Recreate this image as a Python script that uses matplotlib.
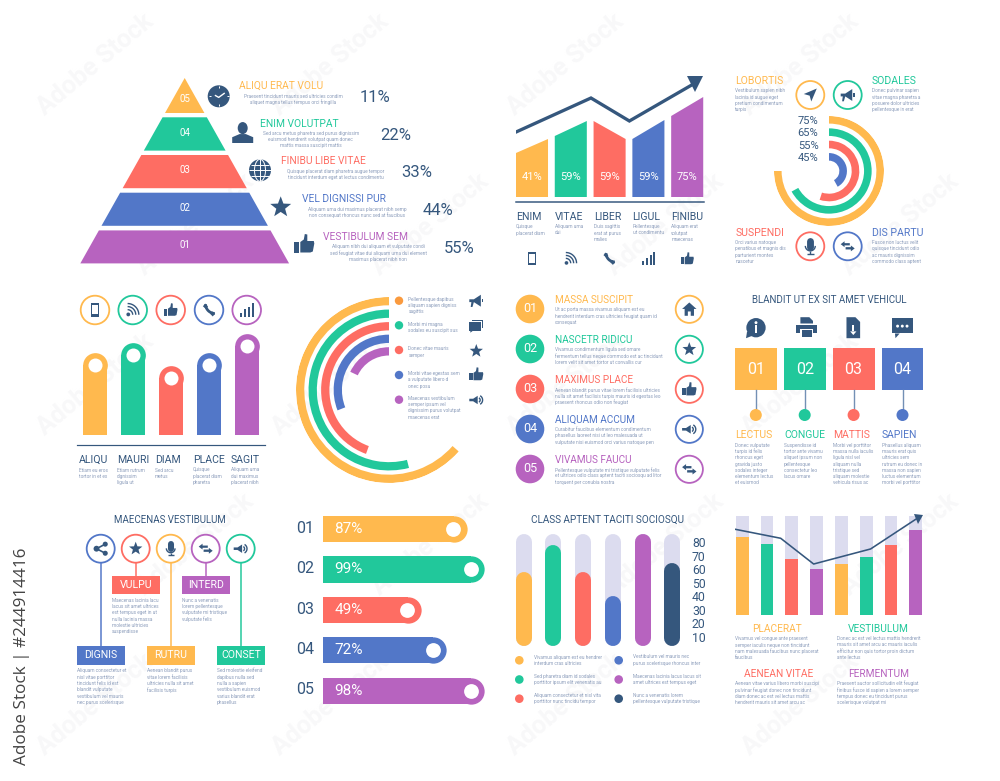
"""Infographic element set: pyramid, bar charts, radial bars, lists and pills."""

import numpy as np
import matplotlib
matplotlib.use("Agg")
import matplotlib.pyplot as plt
from matplotlib.patches import Circle, Ellipse, Polygon, Rectangle

W, H = 1000, 781
PX = 0.72  # points per pixel at dpi=100

YELLOW = "#FFB94E"
GREEN = "#21C89B"
RED = "#FE6D63"
BLUE = "#5277C8"
PURPLE = "#B763BF"
NAVY = "#35577D"
TRACK = "#DCDCEF"
BODY = "#8D9EBC"
FIVE = [YELLOW, GREEN, RED, BLUE, PURPLE]

plt.rcParams["font.family"] = ["Roboto", "DejaVu Sans"]

# pyramid
pyr_nums = ["05", "04", "03", "02", "01"]
pyr_titles = ["ALIQU ERAT VOLU", "ENIM VOLUTPAT", "FINIBU LIBE VITAE", "VEL DIGNISSI PUR", "VESTIBULUM SEM"]
pyr_pcts = ["11%", "22%", "33%", "44%", "55%"]
pyr_body = [
    ["Praesent tincidunt mauris sed ultricies condim", "aliquet magna tellus tempus orci fringilla"],
    ["Sed arcu metus pharetra sed purus dignissim", "euismod hendrerit volutpat quam donec", "mattis massa suscipit mattis"],
    ["Quisque placerat diam pharetra augue tempor", "tincidunt interdum eget at lectus condimentu"],
    ["Aliquam urna dui maximus placerat nibh semp", "non consequat rhoncus nunc sed at faucibus"],
    ["Aliquam nibh dui aliquam et vulputate condi", "sed feugiat vitae dui aliquam urna dui element", "maximus placerat nibh non"],
]

# slanted bars with trend arrow
slant_left = [44, 61, 76, 58, 81]
slant_right = [58, 76, 58, 77, 100]
slant_labels = ["41%", "59%", "59%", "59%", "75%"]
slant_titles = ["ENIM", "VITAE", "LIBER", "LIGUL", "FINIBU"]
slant_body = [
    ["Quisque", "placerat diam"],
    ["Aliquam urna", "dui"],
    ["Duis sagittis", "erat at purus", "malies"],
    ["Pellentesque", "ut condimentu"],
    ["Aliquam erat", "volutpat", "maecenas"],
]
trend_x = [-0.41, 1.52, 2.51, 4.25]
trend_y = [65, 99, 76, 115]

# top right radial
ring_pcts = [75, 67, 55, 42]
ring_labels = ["75%", "65%", "55%", "45%"]
corner_titles = ["LOBORTIS", "SODALES", "SUSPENDI", "DIS PARTU"]
corner_body = [
    ["Vestibulum sapien nibh", "lacinia id augue eget", "pretium condimentum", "turpis"],
    ["Donec pulvinar sapien", "vitae magna pharetra a", "posuere dolor ultricies", "pellentesque in erat"],
    ["Orci varius natoque", "penatibus et magnis dis", "parturient montes", "nascetur"],
    ["Fusce non luctus velit", "quisque tincidunt odio", "ac mauris dignissim", "commodo class aptent"],
]

# rounded columns
col_heights = [82, 92, 69, 82, 101]
col_titles = ["ALIQU", "MAURI", "DIAM", "PLACE", "SAGIT"]
col_body = [
    ["Etiam eu eros", "tortor in et ex"],
    ["Etiam rutrum", "dignissim", "ligula ut"],
    ["Sed arcu", "metus"],
    ["Quisque", "placerat diam", "pharetra"],
    ["Aliquam urna", "dui maximus", "placerat nibh"],
]

# large radial
big_pcts = [63.5, 54, 44.5, 31, 18]
big_body = [
    ["Pellentesque dapibus", "aliquam sapien digniss", "sagittis"],
    ["Morbi mi magna", "sodales eu suscipit sus"],
    ["Donec vitae mauris", "semper"],
    ["Morbi vitae egestas sem", "a vulputate libero d", "onec posu"],
    ["Maecenas vestibulum", "semper ipsum vel", "dignissim purus volutpat", "maecenas erat"],
]

# numbered list
list_nums = ["01", "02", "03", "04", "05"]
list_titles = ["MASSA SUSCIPIT", "NASCETR RIDICU", "MAXIMUS PLACE", "ALIQUAM ACCUM", "VIVAMUS FAUCU"]
list_body = [
    ["Ut ac porta massa vivamus aliquam est eu", "hendrerit interdum cras ultricies feugiat quam id", "consequat"],
    ["Vivamus condimentum ligula sed ornare", "fermentum tellus neque commodo est ac tincidunt", "lorem velit sit amet tortor ut convallis cur"],
    ["Aenean blandit purus vitae lorem facilisis ultricies", "nulla sit amet facilisis turpis mauris id egestas leo", "praesent rhoncus odio non feugiat"],
    ["Curabitur faucibus elementum condimentum", "phasellus laoreet nisi ut leo malesuada ut", "vulputate nisi euismod orci varius natoque pen"],
    ["Pellentesque vulputate mi tristique vulputate felis", "et ultrices odio class aptent taciti sociosqu ad litor", "torquent per conubia nostra"],
]

# square steps
step_nums = ["01", "02", "03", "04"]
step_titles = ["LECTUS", "CONGUE", "MATTIS", "SAPIEN"]
step_body = [
    ["Donec vulputate", "turpis id felis", "rhoncus eget", "gravida justo", "sodales integer", "elementum lectus", "et euismod"],
    ["Suspendisse id", "tortor ante vivamu", "aliquet ipsum non", "pellentesque", "consectetur leo", "lacus ornare"],
    ["Morbi vel porttitor", "massa nulla iaculis", "ligula nisl vel", "aliquam nulla", "tristique sed", "aliquam molestie", "vehicula risus ac"],
    ["Phasellus aliquam", "mauris erat quis", "ultricies sem", "rutrum eu donec in", "massa non sapien", "luctus elementum", "morbi vel porttitor"],
]

# branch diagram
branch_labels = ["DIGNIS", "VULPU", "RUTRU", "INTERD", "CONSET"]
branch_body = [
    ["Aliquam consectetur et", "nisl vitae porttitor", "tincidunt felis id est", "blandit vulputate", "vestibulum vel mauris", "nec purus scelerisque"],
    ["Maecenas lacinia lacu", "lacus sit amet ultrices", "est tempus eget in ut", "nulla lacinia massa", "molestie ultricies", "suspendisse"],
    ["Aenean blandit purus", "vitae lorem facilisis", "ultricies nulla sit amet", "facilisis turpis"],
    ["Nunc a venenatis", "lorem pellentesque", "vulputate mi tristique", "vulputate felis"],
    ["Sed molestie eleifend", "dapibus nulla sed", "nulla a sapien", "vestibulum euismod", "varius blandit erat", "phasellus"],
]

# horizontal bars
hbar_nums = ["01", "02", "03", "04", "05"]
hbar_labels = ["87%", "99%", "49%", "72%", "98%"]
hbar_lengths = [87.5, 98, 59.4, 74.9, 98]

# pill chart
pill_values = [57.7, 77.8, 57.7, 40.2, 85.9, 64.3]
pill_colors = [YELLOW, GREEN, RED, BLUE, PURPLE, NAVY]
pill_ticks = [10, 20, 30, 40, 50, 60, 70, 80]
pill_body = [
    ["Vivamus aliquam est eu hendrer", "interdum cras ultricies"],
    ["Sed pharetra diam id sodales", "porttitor ipsum elit venenatis au"],
    ["Aliquam consectetur et nisl vita", "porttitor nunc tincidu tempor"],
    ["Vestibulum vel mauris nec", "purus scelerisque rhoncus inter"],
    ["Maecenas lacinia lacus lacus sit", "amet ultrices est tempus eget"],
    ["Nunc a venenatis lorem", "pellentesque vulputate tristique"],
]

# stacked bars with line
stack_values = [79, 72, 57, 46, 52, 59, 71, 86]
stack_colors = [YELLOW, GREEN, RED, PURPLE, YELLOW, GREEN, RED, PURPLE]
stack_line_x = [-0.29, 1.55, 2.88, 5.18, 7.1]
stack_line_y = [86.6, 77.5, 51.5, 66.7, 98.3]
stack_titles = ["PLACERAT", "VESTIBULUM", "AENEAN VITAE", "FERMENTUM"]
stack_body = [
    ["Vivamus vel congue ante praesent", "semper iaculis neque non tincidunt", "nam malesuada faucibus nunc placerat", "faucibus"],
    ["Donec ac est vel lectus mattis hendrerit", "mauris sit amet arcu ac mauris iaculis", "efficitur non quis tortor proin dictum", "ante lectus"],
    ["Aenean vitae varius libero morbi suscipi", "pulvinar feugiat donec non tincidunt", "diam donec ac est vel lectus mattis", "hendrerit mauris sit amet arcu ac"],
    ["Praesent auctor sollicitudin elit feugiat", "finibus fusce id sapien a lorem semper", "tempus donec eu tincidunt purus", "scelerisque volutpat mi"],
]

fig = plt.figure(figsize=(W / 100, H / 100), dpi=100, facecolor="white")


def panel(x0, y0, x1, y1, **kw):
    a = fig.add_axes([x0 / W, 1 - y1 / H, (x1 - x0) / W, (y1 - y0) / H], zorder=2, **kw)
    a.patch.set_visible(False)
    return a


# watermark layer, then overlay in pixel coordinates for text and icons
base = fig.add_axes([0, 0, 1, 1], zorder=0)
base.set_xlim(0, W)
base.set_ylim(H, 0)
base.axis("off")
for row in range(5):
    for col in range(4):
        base.text(95 + col * 235 + (row % 2) * 100, 65 + row * 160, "Adobe Stock", rotation=40,
                  color="#F8F8F9", fontsize=18, fontweight="bold", ha="center", va="center")

ax = fig.add_axes([0, 0, 1, 1], zorder=5)
ax.set_xlim(0, W)
ax.set_ylim(H, 0)
ax.axis("off")


def txt(x, y, s, color=NAVY, size=7.4, ha="left", **kw):
    ax.text(x, y, s, color=color, fontsize=size, ha=ha, va="center", zorder=9, **kw)


def body(x, y, lines, ha="left", dy=6.3, size=3.4):
    for i, line in enumerate(lines):
        ax.text(x, y + i * dy, line, color=BODY, fontsize=size, ha=ha, va="center", zorder=9)


def poly(cx, cy, s, pts, color=NAVY, z=6):
    xy = [(cx + s * px, cy - s * py) for px, py in pts]
    ax.add_patch(Polygon(xy, closed=True, fc=color, ec="none", zorder=z))


def rect(cx, cy, s, x0, y0, x1, y1, color=NAVY, z=6):
    poly(cx, cy, s, [(x0, y0), (x1, y0), (x1, y1), (x0, y1)], color, z)


def disc(cx, cy, r, color, z=6):
    ax.add_patch(Circle((cx, cy), r, fc=color, ec="none", zorder=z))


def curve(cx, cy, s, px, py, r, a0, a1, lw, color=NAVY, z=6):
    t = np.radians(np.linspace(a0, a1, 30))
    ax.plot(cx + s * (px + r * np.cos(t)), cy - s * (py + r * np.sin(t)), color=color,
            lw=lw, solid_capstyle="butt", zorder=z)


def seg(cx, cy, s, pts, lw, color=NAVY, z=6, cap="butt"):
    ax.plot([cx + s * p[0] for p in pts], [cy - s * p[1] for p in pts], color=color, lw=lw,
            solid_capstyle=cap, zorder=z)


def star(cx, cy, s, color=NAVY):
    t = np.radians(90 + 36 * np.arange(10))
    r = np.where(np.arange(10) % 2 == 0, 1.0, 0.42)
    poly(cx, cy, s, list(zip(r * np.cos(t), r * np.sin(t))), color)


def thumb(cx, cy, s):
    rect(cx, cy, s, -1.0, -0.85, -0.5, 0.2)
    poly(cx, cy, s, [(-0.4, 0.2), (-0.05, 0.45), (0.05, 1.0), (0.3, 0.95), (0.3, 0.3), (0.95, 0.3),
                     (1.0, 0.05), (0.85, -0.75), (0.6, -0.85), (-0.4, -0.85)])


def clock(cx, cy, s):
    disc(cx, cy, s, NAVY)
    seg(cx, cy, s, [(-0.35, 0.1), (0, -0.1), (0.55, 0.3)], 1.0, "white", 7)
    for a in (0, 90, 180, 270):
        c, d = np.cos(np.radians(a)), np.sin(np.radians(a))
        seg(cx, cy, s, [(0.72 * c, 0.72 * d), (0.9 * c, 0.9 * d)], 0.7, "white", 7)


def person(cx, cy, s):
    ax.add_patch(Ellipse((cx, cy - 0.42 * s), 0.95 * s, 1.15 * s, fc=NAVY, ec="none", zorder=6))
    poly(cx, cy, s, [(-1, -1), (-1, -0.45), (-0.3, -0.15), (0.3, -0.15), (1, -0.45), (1, -1)])


def globe(cx, cy, s):
    disc(cx, cy, s, NAVY)
    lw = 0.7
    seg(cx, cy, s, [(-1, 0), (1, 0)], lw, "white", 7)
    seg(cx, cy, s, [(0, -1), (0, 1)], lw, "white", 7)
    seg(cx, cy, s, [(-0.85, 0.5), (0.85, 0.5)], lw, "white", 7)
    seg(cx, cy, s, [(-0.85, -0.5), (0.85, -0.5)], lw, "white", 7)
    t = np.radians(np.linspace(0, 360, 60))
    ax.plot(cx + 0.5 * s * np.cos(t), cy + s * np.sin(t), color="white", lw=lw, zorder=7)


def mobile(cx, cy, s):
    rect(cx, cy, s, -0.62, -1, 0.62, 1)
    rect(cx, cy, s, -0.4, -0.65, 0.4, 0.75, "white", 7)


def rss(cx, cy, s):
    disc(cx - 0.65 * s, cy + 0.65 * s, 0.28 * s, NAVY)
    for r in (0.75, 1.2, 1.65):
        curve(cx, cy, s, -0.75, -0.7, r, 0, 90, 1.0)


def call(cx, cy, s):
    curve(cx, cy, s, 0.85, 0.85, 1.35, 180, 270, 2.0)
    poly(cx, cy, s, [(-0.9, 0.55), (-0.55, 0.95), (-0.15, 0.5), (-0.45, 0.15)])
    poly(cx, cy, s, [(0.9, -0.55), (0.55, -0.95), (0.15, -0.55), (0.45, -0.2)])


def bars(cx, cy, s):
    for i, h in enumerate((0.6, 1.1, 1.5, 2.0)):
        x = -0.95 + i * 0.58
        rect(cx, cy, s, x, -1, x + 0.3, -1 + h)


def mic(cx, cy, s):
    seg(cx, cy, s, [(0, 0.65), (0, -0.05)], 0.62 * s, cap="round")
    curve(cx, cy, s, 0, 0.05, 0.62, 180, 360, 1.0)
    seg(cx, cy, s, [(0, -0.55), (0, -0.95)], 1.0)
    seg(cx, cy, s, [(-0.4, -0.95), (0.4, -0.95)], 1.0)


def arrows(cx, cy, s):
    poly(cx, cy, s, [(-1, 0.3), (-0.45, 0.72), (-0.45, 0.45), (0.3, 0.45), (0.3, 0.13), (-0.45, 0.13), (-0.45, -0.12)])
    poly(cx, cy, s, [(1, -0.3), (0.45, 0.12), (0.45, -0.12), (-0.3, -0.12), (-0.3, -0.45), (0.45, -0.45), (0.45, -0.72)])


def share(cx, cy, s):
    seg(cx, cy, s, [(0.65, 0.65), (-0.6, 0), (0.65, -0.65)], 1.2)
    disc(cx + 0.65 * s, cy - 0.65 * s, 0.36 * s, NAVY)
    disc(cx - 0.6 * s, cy, 0.42 * s, NAVY)
    disc(cx + 0.65 * s, cy + 0.65 * s, 0.36 * s, NAVY)


def megaphone(cx, cy, s):
    poly(cx, cy, s, [(-1, 0.2), (-0.35, 0.2), (0.65, 0.85), (0.65, -0.85), (-0.35, -0.2), (-0.55, -0.9),
                     (-0.8, -0.9), (-0.7, -0.2), (-1, -0.2)])
    rect(cx, cy, s, 0.75, -0.25, 1.0, 0.25)


def speaker(cx, cy, s):
    poly(cx, cy, s, [(-1, 0.18), (-0.45, 0.18), (0.2, 0.6), (0.2, -0.6), (-0.45, -0.18), (-1, -0.18)])
    curve(cx, cy, s, 0.2, 0, 0.35, -60, 60, 1.0)
    curve(cx, cy, s, 0.2, 0, 0.7, -60, 60, 1.0)


def chat2(cx, cy, s):
    rect(cx, cy, s, -0.55, -0.35, 1.0, 0.85)
    rect(cx, cy, s, -0.75, -0.55, 0.78, 0.65, "white", 7)
    rect(cx, cy, s, -1.0, -0.7, 0.62, 0.5, NAVY, 8)
    poly(cx, cy, s, [(-0.85, -0.7), (-0.85, -1), (-0.45, -0.7)], NAVY, 8)


def bubble(cx, cy, s):
    rect(cx, cy, s, -1, -0.55, 1, 0.9)
    poly(cx, cy, s, [(-0.7, -0.55), (-0.65, -1), (-0.25, -0.55)])
    for x in (-0.45, 0, 0.45):
        disc(cx + x * s, cy - 0.15 * s, 0.14 * s, "white", 7)


def printer(cx, cy, s):
    rect(cx, cy, s, -1, -0.5, 1, 0.3)
    poly(cx, cy, s, [(-0.6, 0.4), (-0.6, 1), (0.25, 1), (0.6, 0.65), (0.6, 0.4)])
    rect(cx, cy, s, -0.62, -1, 0.62, -0.1, "white", 7)
    rect(cx, cy, s, -0.48, -0.88, 0.48, -0.22, NAVY, 8)


def filedown(cx, cy, s):
    poly(cx, cy, s, [(-0.65, -1), (-0.65, 1), (0.2, 1), (0.65, 0.55), (0.65, -1)])
    rect(cx, cy, s, -0.1, -0.35, 0.1, 0.3, "white", 7)
    poly(cx, cy, s, [(-0.3, -0.35), (0.3, -0.35), (0, -0.7)], "white", 7)


def home(cx, cy, s):
    poly(cx, cy, s, [(-1, 0.05), (0, 0.95), (1, 0.05), (0.65, 0.05), (0.65, -0.9), (0.2, -0.9), (0.2, -0.3),
                     (-0.2, -0.3), (-0.2, -0.9), (-0.65, -0.9), (-0.65, 0.05)])


def info(cx, cy, s):
    disc(cx, cy, s * 0.92, NAVY)
    poly(cx, cy, s, [(-0.85, -0.35), (-0.95, -1.0), (-0.3, -0.75)])
    disc(cx, cy - 0.48 * s, 0.14 * s, "white", 7)
    rect(cx, cy, s, -0.12, -0.55, 0.12, 0.22, "white", 7)


def plane(cx, cy, s):
    poly(cx, cy, s, [(1, 1), (-1, 0.15), (-0.1, -0.1), (0.15, -1)])


def ring(x, y, color, icon, isize=7.0, r=14):
    ax.add_patch(Circle((x, y), r, fc="white", ec=color, lw=1.8 * PX, zorder=5))
    icon(x, y, isize)


# pyramid
apex_x, apex_y, slope = 184.7, 78.0, 0.563
for i in range(5):
    top = 117.3 + (i - 1) * 37.7 if i else apex_y
    bot = 113.0 + i * 37.6
    ax.add_patch(Polygon([(apex_x - (top - apex_y) * slope, top), (apex_x + (top - apex_y) * slope, top),
                          (apex_x + (bot - apex_y) * slope, bot), (apex_x - (bot - apex_y) * slope, bot)],
                         fc=FIVE[i], ec="none"))
    txt(apex_x, 99.5 if i == 0 else 95 + i * 37.6, pyr_nums[i], "white", 7.0, "center")
    left = 238.7 + i * 21.1
    txt(left, 86 + i * 37.7, pyr_titles[i], FIVE[i], 7.4)
    body(left + [54.5, 51, 54.5, 55.5, 55][i], 96 + i * 37.7 + ([0, -0.4, 0, 0, 0][i]), pyr_body[i], "center")
    txt(375 + i * 21.1, 97.5 + i * 37.7, pyr_pcts[i], NAVY, 12.0, "center")
clock(218.7, 96.3, 11)
person(242.7, 132.5, 10.5)
globe(260, 170.3, 11)
star(280.7, 207.3, 11)
thumb(304.3, 244, 10)

# slanted bars and trend arrow
a = panel(516, 77, 704, 197)
a.set_xlim(-0.412, 4.433)
a.set_ylim(0, 120)
a.axis("off")
for i, (l, r) in enumerate(zip(slant_left, slant_right)):
    a.fill([i - 0.413, i + 0.413, i + 0.413, i - 0.413], [0, 0, r, l], color=FIVE[i], lw=0)
    a.text(i, 19.7, slant_labels[i], color="white", fontsize=8.0, ha="center", va="center")
a.plot(trend_x, trend_y, color=NAVY, lw=3.3 * PX, solid_joinstyle="miter")
a.plot([4.19], [113], marker="v", ms=16 * PX, color=NAVY, mew=0, clip_on=False)
ax.plot([516, 704], [202, 202], color=NAVY, lw=1.5 * PX)
for i, t in enumerate(slant_titles):
    x = 516 + i * 38.85
    txt(x, 216.7, t, NAVY, 7.6)
    body(x, 226.7, slant_body[i])
for x, icon in zip([532, 570.7, 609.3, 648.3, 687.3], [mobile, rss, call, bars, thumb]):
    icon(x, 258.7, 6.5)

# top right radial
a = panel(774, 116, 884, 226, projection="polar")
a.set_theta_zero_location("N")
a.set_theta_direction(-1)
a.set_ylim(0, 55)
a.axis("off")
for i, p in enumerate(ring_pcts):
    sweep = 2 * np.pi * p / 100
    a.bar(sweep / 2, 7.6, width=sweep, bottom=47.4 - i * 12.35, color=FIVE[i] if i < 3 else BLUE, lw=0)
for i, s in enumerate(ring_labels):
    txt(818.5, 120.7 + i * 12.45, s, NAVY, 8.0, "right")
for i, (x, y) in enumerate([(735.3, 81), (871.7, 81), (735.3, 232.7), (871.7, 232.7)]):
    c = [YELLOW, GREEN, RED, BLUE][i]
    txt(x, y, corner_titles[i], c, 7.6)
    body(x, y + 9.7, corner_body[i])
ring(810.3, 95, YELLOW, plane, 6.5)
ring(847.7, 95, GREEN, megaphone, 7.0)
ring(810.3, 246.3, RED, mic, 8.0)
ring(847.7, 246.3, BLUE, arrows, 7.0)

# rounded columns
a = panel(76.7, 330, 265, 434.7)
a.set_xlim(-0.482, 4.474)
a.set_ylim(0, 104.7)
a.axis("off")
for i, v in enumerate(col_heights):
    a.bar(i, v - 12.3, width=0.65, color=FIVE[i], lw=0)
    a.plot([i], [v - 12.3], marker="o", ms=24.7 * PX, color=FIVE[i], mew=0, clip_on=False)
    a.plot([i], [v - 12.3], marker="o", ms=14 * PX, color="white", mew=0, clip_on=False)
ax.plot([76.7, 265], [445, 445], color=NAVY, lw=1.2 * PX)
for i, t in enumerate(col_titles):
    x = [78.7, 116.7, 155, 192.7, 230.7][i]
    txt(x, 460, t, NAVY, 7.6)
    body(x, 470, col_body[i])
for x, c, icon in zip([95, 132.7, 170.7, 209, 246.7], FIVE[:2] + [RED, BLUE, PURPLE],
                      [mobile, rss, thumb, call, bars]):
    ring(x, 310, c, icon, 6.8, 14.3)

# large radial
a = panel(296, 297, 482, 483, projection="polar")
a.set_theta_zero_location("N")
a.set_theta_direction(1)
a.set_ylim(0, 93)
a.axis("off")
for i, p in enumerate(big_pcts):
    sweep = 2 * np.pi * p / 100
    a.bar(sweep / 2, 8.3, width=sweep, bottom=84.7 - i * 12.55, color=FIVE[i], lw=0)
big_dot_y = [300.7, 325.3, 350, 375, 399.7]
big_body_y = [299.3, 324.3, 349, 373.7, 398.3]
for i, y in enumerate(big_dot_y):
    disc(399, y, 4.2, "#FA9A3E" if i == 0 else FIVE[i])
    body(408.3, big_body_y[i], big_body[i])
for y, icon in zip([300.7, 325.7, 351, 374.3, 400], [megaphone, chat2, star, thumb, speaker]):
    icon(476.3, y, 7)

# numbered list
for i in range(5):
    y = 309 + i * 40
    disc(530, y, 14.3, FIVE[i])
    txt(530, y, list_nums[i], "white", 9.0, "center")
    txt(555, y - 9, list_titles[i], FIVE[i], 7.2)
    body(555, y + 0.7, list_body[i])
    ring(689.3, y + 0.3, FIVE[i], [home, star, thumb, speaker, arrows][i], 7.2, 13.6)

# square steps
txt(829, 300, "BLANDIT UT EX SIT AMET VEHICUL", NAVY, 7.0, "center")
for x, icon in zip([756, 806.7, 853.3, 902.3], [info, printer, filedown, bubble]):
    icon(x, 327.7, 10.5)
for i, n in enumerate(step_nums):
    x0 = 735 + i * 48.9
    cx = x0 + 20.8
    ax.add_patch(Rectangle((x0, 348.3), 41.7, 41.7, fc=FIVE[i], ec="none"))
    txt(cx, 369.3, n, "white", 11.5, "center")
    ax.plot([cx, cx], [390, 412], color="#7390B5", lw=1.4 * PX)
    disc(cx, 415, 6, FIVE[i])
    txt(x0, 435, step_titles[i], FIVE[i], 7.5)
    body(x0, 445.3, step_body[i], dy=6.25)

# branch diagram
txt(170, 519.7, "MAECENAS VESTIBULUM", NAVY, 7.0, "center")
branch_x = [100.7, 135.7, 170.7, 205.7, 240.7]
branch_c = [BLUE, RED, YELLOW, PURPLE, GREEN]
branch_icons = [share, star, mic, arrows, speaker]
box_x = [76.7, 111.7, 146.7, 181.7, 216.7]
for i, x in enumerate(branch_x):
    low = i % 2 == 0
    top = 646.3 if low else 575.7
    ax.plot([x, x], [548, top], color=branch_c[i], lw=1.5 * PX, zorder=4)
    ring(x, 548.7, branch_c[i], branch_icons[i], 7.0)
    ax.add_patch(Rectangle((box_x[i], top), 48.3, 18.2, fc=branch_c[i], ec="none"))
    txt(box_x[i] + 24.2, top + 9.2, branch_labels[i], "white", 7.6, "center")
    body(box_x[i], top + 24.5, branch_body[i])

# horizontal bars
a = panel(323.3, 510, 493.3, 710)
a.set_xlim(0, 103.3)
a.set_ylim(4.477, -0.47)
a.axis("off")
for i, v in enumerate(hbar_lengths):
    cap = 13.2 / 1.646
    a.barh(i, v - cap, height=0.65, color=FIVE[i], lw=0)
    a.plot([v - cap], [i], marker="o", ms=26.3 * PX, color=FIVE[i], mew=0, clip_on=False)
    a.plot([v - 14 / 1.646], [i], marker="o", ms=14.8 * PX, color="white", mew=0, clip_on=False)
    a.text(6.6, i, hbar_labels[i], color="white", fontsize=11, ha="left", va="center")
    txt(305, 528.3 + i * 40.4, hbar_nums[i], NAVY, 11.5, "center")

# pill chart
a = panel(515.7, 534, 680.3, 646)
a.set_xlim(-0.27, 5.27)
a.set_ylim(3.37, 85.9)
for s in a.spines.values():
    s.set_visible(False)
a.set_xticks([])
a.yaxis.tick_right()
a.set_yticks(pill_ticks)
a.tick_params(axis="y", length=0, pad=8.4, labelsize=8.8, labelcolor=NAVY)
cap = 8 / 1.357
for i, v in enumerate(pill_values):
    a.plot([i, i], [3.37 + cap, 85.9 - cap], color=TRACK, lw=16 * PX, solid_capstyle="round")
    a.plot([i, i], [3.37 + cap, v - cap], color=pill_colors[i], lw=16 * PX, solid_capstyle="round")
txt(607.7, 519.7, "CLASS APTENT TACITI SOCIOSQU", NAVY, 7.2, "center")
for i in range(6):
    col, row = i // 3, i % 3
    y = 660.3 + row * 19.2
    disc(519.3 + col * 99.4, y, 4.3, pill_colors[i])
    body(533.7 + col * 99.3, y - 3.3, pill_body[i])

# stacked bars with line
a = panel(735, 516, 923, 615)
a.set_xlim(-0.295, 7.295)
a.set_ylim(0, 100)
a.axis("off")
a.bar(range(8), [100] * 8, width=0.513, color=TRACK, lw=0)
a.bar(range(8), stack_values, width=0.513, color=stack_colors, lw=0)
a.plot(stack_line_x, stack_line_y, color=NAVY, lw=1.6 * PX)
a.plot([7.11], [96.5], marker="v", ms=9 * PX, color=NAVY, mew=0, clip_on=False)
for i, (x, y, c) in enumerate([(777.3, 629, YELLOW), (878.3, 629, GREEN), (778.3, 673.7, RED), (878.3, 673.7, PURPLE)]):
    txt(x, y, stack_titles[i], c, 7.3, "center")
    body(735 if i % 2 == 0 else 836.7, y + 9.7, stack_body[i])

fig.text(22 / W, 1 - 656.5 / H, "Adobe Stock | #244914416", rotation=90, color="#444444", fontsize=12.3,
         family="Open Sans", ha="center", va="center", zorder=6)

fig.savefig("out.png", dpi=100)
